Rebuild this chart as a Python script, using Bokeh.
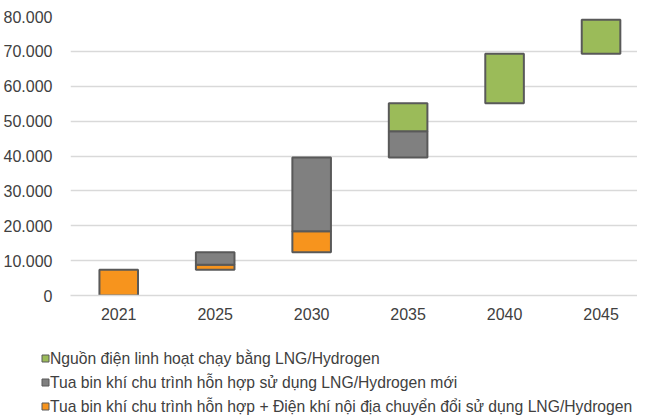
from bokeh.plotting import figure
from bokeh.layouts import column
from bokeh.models import ColumnDataSource, Range1d, FixedTicker
from bokeh.core.properties import value
from bokeh.embed import file_html
from bokeh.resources import INLINE

years = ["2021", "2025", "2030", "2035", "2040", "2045"]
base = [0, 7400, 12400, 39600, 55100, 69300]
orange_vals = [7400, 1400, 6000, 0, 0, 0]
gray_vals = [0, 3600, 21200, 7500, 0, 0]
green_vals = [0, 0, 0, 8000, 14200, 9800]

y_ticks = [0, 10000, 20000, 30000, 40000, 50000, 60000, 70000, 80000]
y_tick_labels = ["0", "10.000", "20.000", "30.000", "40.000", "50.000", "60.000", "70.000", "80.000"]

series_names = [
    "Nguồn điện linh hoạt chạy bằng LNG/Hydrogen",
    "Tua bin khí chu trình hỗn hợp sử dụng LNG/Hydrogen mới",
    "Tua bin khí chu trình hỗn hợp + Điện khí nội địa chuyển đổi sử dụng LNG/Hydrogen",
]
series_colors = ["#9BBB59", "#808080", "#F7941D"]
FONT = "Liberation Sans"
TEXT = "#404040"
EDGE = "#595959"

x_pos = [i + 0.5 for i in range(len(years))]

p = figure(x_range=Range1d(0, 5.878), y_range=Range1d(0, 80000),
           width=637, height=335, output_backend="svg", toolbar_location=None,
           min_border_left=61, min_border_right=0, min_border_top=16, min_border_bottom=40)
p.outline_line_color = None
p.frame_align = False

def make_source(bottoms, vals):
    xs, b, t = [], [], []
    for xp, bb, v in zip(x_pos, bottoms, vals):
        if v > 0:
            xs.append(xp); b.append(bb); t.append(bb + v)
    return ColumnDataSource(dict(x=xs, bottom=b, top=t))

orange_bottom = base
gray_bottom = [b + o for b, o in zip(base, orange_vals)]
green_bottom = [b + g for b, g in zip(gray_bottom, gray_vals)]

for bottoms, vals, col in [(orange_bottom, orange_vals, series_colors[2]),
                           (gray_bottom, gray_vals, series_colors[1]),
                           (green_bottom, green_vals, series_colors[0])]:
    p.vbar(x="x", bottom="bottom", top="top", width=0.4, source=make_source(bottoms, vals),
           fill_color=col, line_color=EDGE, line_width=2)

p.xgrid.grid_line_color = None
p.ygrid.grid_line_color = "#d9d9d9"
p.ygrid.grid_line_width = 1.5
p.ygrid.ticker = FixedTicker(ticks=y_ticks)

p.yaxis.ticker = FixedTicker(ticks=y_ticks)
p.yaxis.major_label_overrides = {t: l for t, l in zip(y_ticks, y_tick_labels)}
p.yaxis.axis_line_color = None
p.yaxis.major_tick_line_color = None
p.yaxis.minor_tick_line_color = None
p.yaxis.major_label_standoff = 12
p.yaxis.major_label_text_font = FONT
p.yaxis.major_label_text_font_size = "16px"
p.yaxis.major_label_text_color = TEXT

p.xaxis.ticker = FixedTicker(ticks=x_pos)
p.xaxis.major_label_overrides = {xp: y for xp, y in zip(x_pos, years)}
p.xaxis.axis_line_color = "#d9d9d9"
p.xaxis.axis_line_width = 1.5
p.xaxis.major_tick_line_color = None
p.xaxis.minor_tick_line_color = None
p.xaxis.major_label_standoff = 6
p.xaxis.major_label_text_font = FONT
p.xaxis.major_label_text_font_size = "16px"
p.xaxis.major_label_text_color = TEXT

# legend panel
LH = 80
rows = list(range(len(series_names)))
lg = figure(width=637, height=LH, x_range=Range1d(0, 637),
            y_range=Range1d((LH - 23) / 24, -23 / 24),
            output_backend="svg", toolbar_location=None,
            min_border_left=0, min_border_right=0, min_border_top=0, min_border_bottom=0)
lg.frame_align = False
lg.axis.visible = False
lg.grid.visible = False
lg.outline_line_color = None
src = ColumnDataSource(dict(y=rows, label=series_names, color=series_colors))
lg.scatter(x=45, y="y", source=src, marker="square", size=7, fill_color="color",
           line_color=EDGE, line_width=1)
lg.text(x=49.5, y="y", text="label", source=src, text_font=value(FONT), text_font_size="15.7px",
        text_color=TEXT, text_baseline="middle", text_align="left")

layout = column(p, lg, spacing=0)
open("out.html", "w").write(file_html(layout, INLINE))
